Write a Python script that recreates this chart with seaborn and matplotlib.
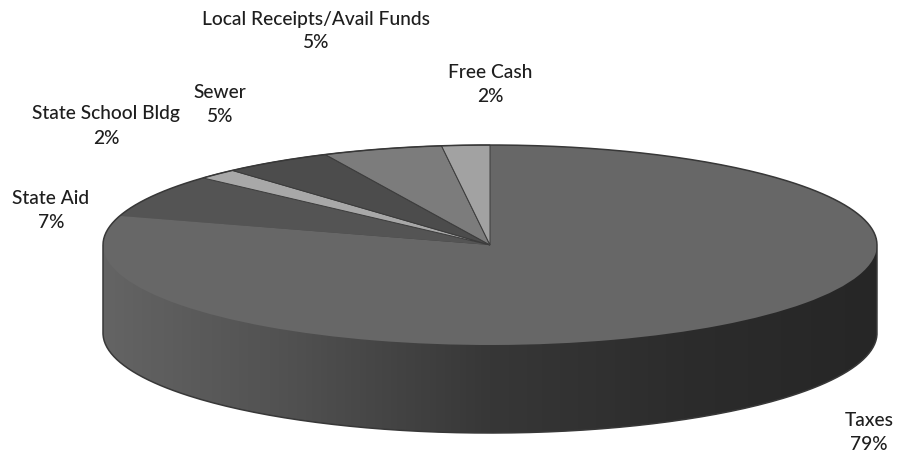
import matplotlib
matplotlib.use('Agg')
import matplotlib.pyplot as plt
from matplotlib.patches import PathPatch
from matplotlib.path import Path
import numpy as np
import seaborn as sns

# shares as drawn (the printed labels are rounded)
categories = ['Taxes', 'State Aid', 'State School Bldg', 'Sewer', 'Local Receipts/Avail Funds', 'Free Cash']
shares = [79.7, 7.0, 1.7, 4.6, 5.0, 2.0]
percent_labels = ['79%', '7%', '2%', '5%', '5%', '2%']

colors = ['#676767', '#545454', '#a8a8a8', '#4c4c4c', '#7c7c7c', '#a2a2a2']
side_colors = ['#646464', '#505050', '#373737', '#2c2c2c', '#262626']

# label centres in pixels
label_pos = [(869, 433), (51, 211), (106, 126), (220, 105), (316, 31), (490, 84)]

# ellipse of the top face in pixels
W, H = 897, 458
cx, cy = 490, 245
rx, ry = 387, 100
depth = 88

sns.set_theme(style='white')
plt.rcParams['font.family'] = ['Lato', 'DejaVu Sans']

fig = plt.figure(figsize=(W / 100, H / 100), dpi=100)
ax = fig.add_axes([0, 0, 1, 1])

wedges, _ = ax.pie(shares, colors=colors, startangle=90, counterclock=False,
                   wedgeprops={'linewidth': 0})
# thin dark lines between the small slices, none around taxes / state aid
for w in wedges[2:]:
    w.set_edgecolor('#3c3c3c')
    w.set_linewidth(0.7)

# outline of the whole disc: upper arc left to right, lower arc back, pushed down by the depth
t = np.linspace(np.pi, 0, 200)
upper = np.column_stack([np.cos(t), np.sin(t)])
lower = np.column_stack([np.cos(t[::-1]), -np.sin(t[::-1]) - depth / ry])
disc = Path(np.vstack([upper, lower, upper[:1]]))

# side of the disc, shaded from left to right
side_cmap = sns.blend_palette(side_colors, as_cmap=True)
img = ax.imshow(np.linspace(0, 1, 256)[None, :], cmap=side_cmap, aspect='auto',
                extent=(-1, 1, -1 - depth / ry, 1), zorder=0)
img.set_clip_path(PathPatch(disc, transform=ax.transData))

ax.add_patch(PathPatch(disc, facecolor='none', edgecolor='#383838', linewidth=1.1, zorder=3))

ax.set_aspect('auto')
ax.set_xlim(-cx / rx, (W - cx) / rx)
ax.set_ylim(-(H - cy) / ry, cy / ry)
ax.axis('off')

for name, pct, (x, y) in zip(categories, percent_labels, label_pos):
    fig.text(x / W, 1 - y / H, f'{name}\n{pct}', ha='center', va='center',
             fontsize=13.8, fontweight='medium', color='#1e1e1e', linespacing=1.5)

fig.savefig('out.png', dpi=100)
